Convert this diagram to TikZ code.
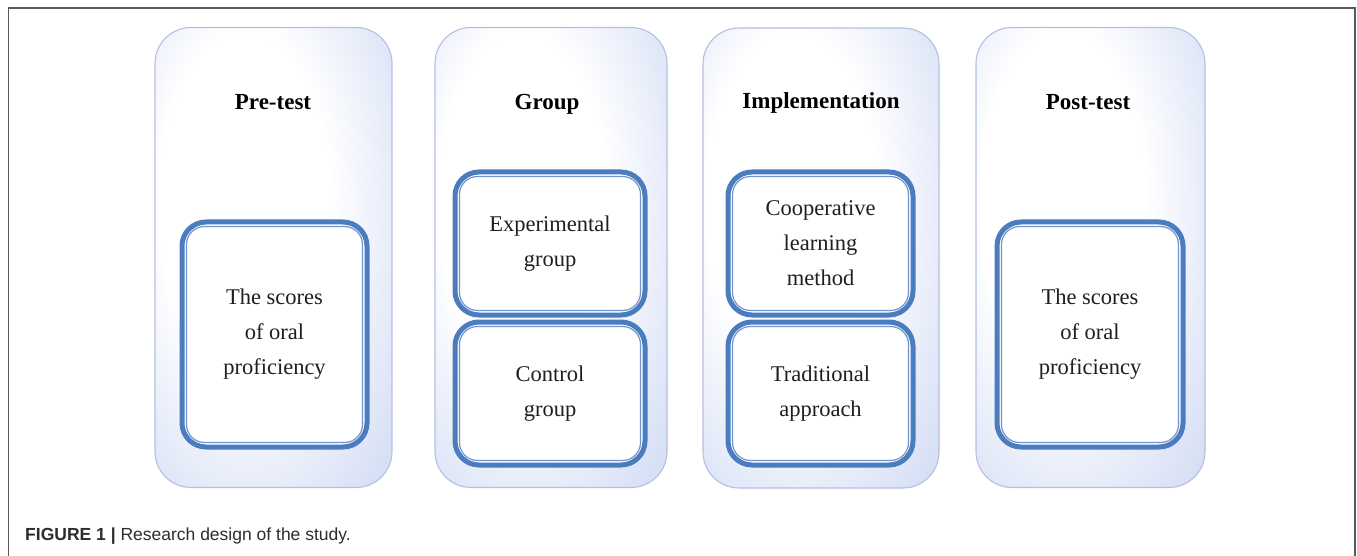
\documentclass[tikz,border=0pt]{standalone}
\usepackage{fontspec}
\setmainfont{Liberation Serif}
\newfontfamily\capfont{Liberation Sans}
\usetikzlibrary{positioning}
\definecolor{bordblue}{RGB}{74,124,190}
\definecolor{thinblue}{RGB}{110,150,205}
\definecolor{panelline}{RGB}{180,192,226}
\definecolor{panelblue}{RGB}{192,205,240}
\definecolor{capgray}{RGB}{45,45,45}
\definecolor{framegray}{RGB}{90,90,90}
\pgfdeclareradialshading{panelsh}{\pgfpoint{-8bp}{8bp}}{%
  color(0bp)=(white); color(18bp)=(white); color(50bp)=(panelblue); color(80bp)=(panelblue)}
\begin{document}
\begin{tikzpicture}[x=1pt,y=-1pt,
  panel/.style={draw=panelline, line width=1.1pt, rounded corners=36pt,
    shading=panelsh, minimum width=#1, minimum height=460pt, inner sep=0pt},
  ptitle/.style={font=\fontsize{23}{26}\selectfont\bfseries, anchor=base},
  ibox/.style={draw=bordblue, line width=5pt, rounded corners=24pt, fill=white,
    minimum width=#1, align=center, inner sep=0pt,
    font=\fontsize{22.5}{35}\selectfont, text=black!88},
  innerline/.style={draw=thinblue, line width=1.2pt, rounded corners=18pt},
]
\useasboundingbox (0,0) rectangle (1357,556);
\fill[white] (0,0) rectangle (1357,556);
% frame
\draw[framegray, line width=1.3pt] (8.5,556) -- (8.5,8) -- (1355,8) -- (1355,556);
% panels
\node[panel=237pt] (p1) at (273.5,257.5) {};
\node[panel=232pt] (p2) at (551,257.5) {};
\node[panel=236pt] (p3) at (821,258) {};
\node[panel=229pt] (p4) at (1090.5,257.5) {};
% titles
\node[ptitle] (t1) at (273,110) {Pre-test};
\node[ptitle] (t2) at (547,110) {Group};
\node[ptitle] (t3) at (821,109) {Implementation};
\node[ptitle] (t4) at (1088,110) {Post-test};
% inner boxes
\node[ibox=185pt, minimum height=225pt] (b1) at (274.5,334.5) {The scores\\of oral\\proficiency};
\node[ibox=190pt, minimum height=143pt] (b2) at (550,243.5) {Experimental\\group};
\node[ibox=190pt, minimum height=143pt] (b3) at (550,393.5) {Control\\group};
\node[ibox=185pt, minimum height=143pt] (b4) at (820.5,243.5) {Cooperative\\learning\\method};
\node[ibox=185pt, minimum height=143pt] (b5) at (820.5,393.5) {Traditional\\approach};
\node[ibox=186pt, minimum height=225pt] (b6) at (1090,334.5) {The scores\\of oral\\proficiency};
\foreach \n in {b1,b2,b3,b4,b5,b6}
  \draw[innerline] ([shift={(7,7)}]\n.north west) rectangle ([shift={(-7,-7)}]\n.south east);
% caption
\node[anchor=west, font=\capfont\fontsize{17.5}{20}\selectfont, text=capgray, inner sep=0pt] (cap) at (25,536)
  {\textbf{FIGURE 1 |} Research design of the study.};
\end{tikzpicture}
\end{document}
